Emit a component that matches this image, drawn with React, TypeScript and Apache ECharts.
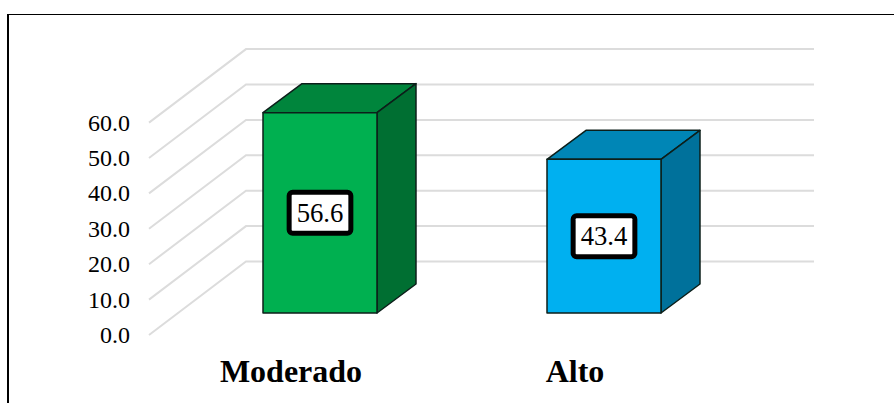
import React, { useEffect, useRef } from "react";
import * as echarts from "echarts";

const categories = ["Moderado", "Alto"];
const values = [56.6, 43.4];
const ticks = [0, 10, 20, 30, 40, 50, 60];
const frontColors = ["#00B050", "#00B0F0"];
const topColors = ["#00853C", "#0086B6"];
const sideColors = ["#006F32", "#00719B"];

const SERIF = '"Liberation Serif", "Times New Roman", serif';
const DEPTH_X = 39;
const DEPTH_Y = 29;
const WALL_X = 97;
const WALL_Y = 73.5;
const EDGE = "#0C1F1A";

export default function App() {
  const ref = useRef<HTMLDivElement>(null);
  useEffect(() => {
    document.body.style.margin = "0";
    const chart = echarts.init(ref.current!, null, { renderer: "svg" });
    chart.setOption({
      animation: false,
      backgroundColor: "#FFFFFF",
      grid: [
        { left: 178, width: 568, top: 100.6, height: 212.4 },
        { left: 149, width: 568, top: 122.6, height: 212.4 },
      ],
      xAxis: [
        { type: "category", gridIndex: 0, data: categories, show: false },
        {
          type: "category",
          gridIndex: 1,
          data: categories,
          axisLine: { show: false },
          axisTick: { show: false },
          axisLabel: {
            margin: 20,
            fontFamily: SERIF,
            fontSize: 32,
            fontWeight: "bold",
            color: "#000000",
          },
        },
      ],
      yAxis: [
        { type: "value", gridIndex: 0, min: 0, max: 60, interval: 10, show: false },
        {
          type: "value",
          gridIndex: 1,
          min: 0,
          max: 60,
          interval: 10,
          axisLine: { show: false },
          axisTick: { show: false },
          splitLine: { show: false },
          axisLabel: {
            margin: 19,
            fontFamily: SERIF,
            fontSize: 24,
            color: "#000000",
            formatter: (v: number) => v.toFixed(1),
          },
        },
      ],
      graphic: [
        {
          type: "line",
          silent: true,
          shape: { x1: 8, y1: 14, x2: 8, y2: 403 },
          style: { stroke: "#000000", lineWidth: 2 },
        },
        {
          type: "line",
          silent: true,
          shape: { x1: 7, y1: 14.5, x2: 894, y2: 14.5 },
          style: { stroke: "#000000", lineWidth: 1 },
        },
      ],
      series: [
        {
          type: "custom",
          xAxisIndex: 1,
          yAxisIndex: 1,
          z: 1,
          clip: false,
          silent: true,
          data: ticks.map((t) => [0, t]),
          renderItem: (params: any, api: any) => {
            const cs = params.coordSys;
            const y = api.coord([0, api.value(1)])[1];
            return {
              type: "polyline",
              shape: {
                points: [
                  [cs.x, y],
                  [cs.x + WALL_X, y - WALL_Y],
                  [cs.x + cs.width + WALL_X, y - WALL_Y],
                ],
              },
              style: { fill: "none", stroke: "#DCDCDC", lineWidth: 2 },
            };
          },
        },
        {
          type: "custom",
          xAxisIndex: 0,
          yAxisIndex: 0,
          z: 2,
          clip: false,
          silent: true,
          data: values.map((v, i) => [i, v]),
          renderItem: (params: any, api: any) => {
            const i = params.dataIndex;
            const v = api.value(1);
            const [cx, yTop] = api.coord([i, v]);
            const [, yBase] = api.coord([i, 0]);
            const w = api.size([1, 0])[0] * 0.4014;
            const l = cx - w / 2;
            const r = cx + w / 2;
            const edge = { stroke: EDGE, lineWidth: 1.5, lineJoin: "round" };
            return {
              type: "group",
              children: [
                {
                  type: "polygon",
                  shape: { points: [[l, yTop], [r, yTop], [r + DEPTH_X, yTop - DEPTH_Y], [l + DEPTH_X, yTop - DEPTH_Y]] },
                  style: { fill: topColors[i], ...edge },
                },
                {
                  type: "polygon",
                  shape: { points: [[r, yTop], [r + DEPTH_X, yTop - DEPTH_Y], [r + DEPTH_X, yBase - DEPTH_Y], [r, yBase]] },
                  style: { fill: sideColors[i], ...edge },
                },
                {
                  type: "rect",
                  shape: { x: l, y: yTop, width: w, height: yBase - yTop },
                  style: { fill: frontColors[i], ...edge },
                },
                {
                  type: "text",
                  x: cx,
                  y: (yTop + yBase) / 2,
                  z2: 10,
                  style: {
                    text: v.toFixed(1),
                    fill: "#000000",
                    font: `26.7px ${SERIF}`,
                    align: "center",
                    verticalAlign: "middle",
                    backgroundColor: "#FFFFFF",
                    borderColor: "#000000",
                    borderWidth: 5,
                    borderRadius: 1,
                    padding: [5, 5, 4, 5],
                  },
                },
              ],
            };
          },
        },
      ],
    });
    return () => chart.dispose();
  }, []);
  return <div ref={ref} style={{ width: 894, height: 403 }} />;
}
